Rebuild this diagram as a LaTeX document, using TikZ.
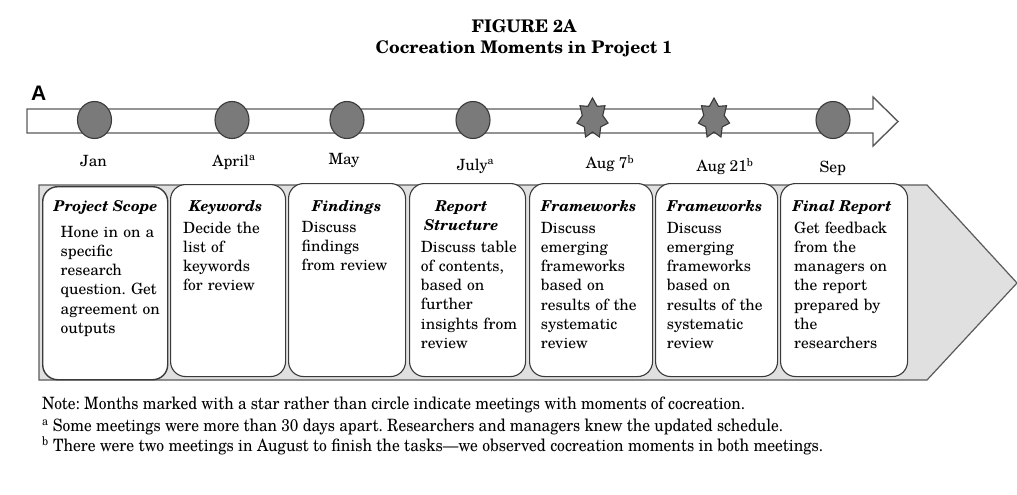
\documentclass[tikz,border=0pt]{standalone}
\usepackage{fontspec}
\setmainfont{TeX Gyre Schola}
\newfontfamily\herosfont{Liberation Sans}
\usepackage{graphicx}
\usetikzlibrary{shapes.geometric}
\definecolor{dotgray}{HTML}{7A7A7A}
\definecolor{edgegray}{HTML}{3A3A3A}
\definecolor{linegray}{HTML}{5A5A5A}
\definecolor{bandgray}{HTML}{E0E0E0}
\tikzset{
  dot/.style={ellipse, minimum width=34pt, minimum height=37pt, inner sep=0pt, fill=dotgray, draw=edgegray, line width=1.1pt},
  stardot/.style={fill=dotgray, draw=edgegray, line width=1.1pt, line join=miter},
  timeline/.style={draw=linegray, fill=white, line width=1.4pt},
  band/.style={draw=linegray, fill=bandgray, line width=1.2pt},
  card/.style={draw=edgegray, fill=white, rounded corners=15pt, line width=1.1pt, anchor=north west, inner sep=0pt},
  cardtitle/.style={anchor=base, inner sep=0pt, font=\fontsize{15}{19}\selectfont\bfseries\itshape, align=center},
  cardbody/.style={anchor=north west, inner sep=0pt, text width=122pt, align=left, font=\fontsize{15.5}{19.2}\selectfont},
  month/.style={anchor=base, inner sep=0pt, font=\fontsize{15.5}{17}\selectfont},
  notetext/.style={anchor=base west, inner sep=0pt, font=\fontsize{17}{19}\selectfont},
}
\newcommand{\topstrut}{\rule{0pt}{12pt}}
\frenchspacing
\begin{document}
\frenchspacing
\begin{tikzpicture}[x=1pt,y=-1pt]
\useasboundingbox (0,0) rectangle (1017,495);
% titles
\node[anchor=base, inner sep=0pt, font=\fontsize{17.4}{20}\selectfont\bfseries] (fig) at (524,33) {FIGURE 2A};
\node[anchor=base, inner sep=0pt, font=\fontsize{17.4}{20}\selectfont\bfseries] (ttl) at (524,53) {Cocreation Moments in Project 1};
\node[anchor=base west, inner sep=0pt, font=\herosfont\bfseries\fontsize{21}{21}\selectfont] (lblA) at (31,100) {A};
% timeline arrow
\draw[timeline] (27,109) -- (873,109) -- (873,97) -- (898,121.5) -- (873,146) -- (873,133) -- (27,133) -- cycle;
% markers
\node[dot] (jan) at (94.5,120) {};
\node[dot] (apr) at (232,120) {};
\node[dot] (may) at (347,120) {};
\node[dot] (jul) at (473,120) {};
\node[dot] (sep) at (833,120) {};
\coordinate (aug7) at (592.5,118.5);
\coordinate (aug21) at (714,118.5);
\foreach \c in {aug7,aug21}{
  \begin{scope}[shift={(\c)}]
    \filldraw[stardot] (-90:16 and 20.5)
      -- (-64.2857:10.5 and 13.5) -- (-38.5714:16 and 20.5)
      -- (-12.8571:10.5 and 13.5) -- (12.8571:16 and 20.5)
      -- (38.5714:10.5 and 13.5) -- (64.2857:16 and 20.5)
      -- (90:10.5 and 13.5) -- (115.7143:16 and 20.5)
      -- (141.4286:10.5 and 13.5) -- (167.1429:16 and 20.5)
      -- (192.8571:10.5 and 13.5) -- (218.5714:16 and 20.5)
      -- (244.2857:10.5 and 13.5) -- cycle;
  \end{scope}
}
% month labels
\node[month] (ljan) at (93.5,166.5) {Jan};
\node[month] (lapr) at (234,166) {April\textsuperscript{a}};
\node[month] (lmay) at (344,164) {May};
\node[month] (ljul) at (475.5,170) {July\textsuperscript{a}};
\node[month] (laug7) at (610,168.3) {Aug 7\textsuperscript{b}};
\node[month] (laug21) at (725,171.7) {Aug 21\textsuperscript{b}};
\node[month] (lsep) at (832.7,172.5) {Sep};
% band chevron
\filldraw[band] (39,185) -- (927,185) -- (1017,283) -- (927,380) -- (39,380) -- cycle;
% cards
\node[card, minimum width=125pt, minimum height=193pt, line width=1.4pt] (c1) at (42,186) {};
\node[card, minimum width=115pt, minimum height=192pt] (c2) at (170,184) {};
\node[card, minimum width=117pt, minimum height=193pt] (c3) at (288,183) {};
\node[card, minimum width=116pt, minimum height=193pt] (c4) at (409,183) {};
\node[card, minimum width=123pt, minimum height=193pt] (c5) at (529,183) {};
\node[card, minimum width=122pt, minimum height=193pt] (c6) at (655,183) {};
\node[card, minimum width=127pt, minimum height=193pt] (c7) at (780,183) {};
% card titles
\node[cardtitle] (t1) at (105.5,211.7) {Project Scope};
\node[cardtitle] (t2) at (225.8,211.7) {Keywords};
\node[cardtitle] (t3) at (346.7,211.7) {Findings};
\node[cardtitle] (t4) at (461.3,211.7) {Report};
\node[cardtitle] (t4b) at (461.3,230.5) {Structure};
\node[cardtitle] (t5) at (588.7,211.7) {Frameworks};
\node[cardtitle] (t6) at (714.7,211.7) {Frameworks};
\node[cardtitle] (t7) at (842,211.7) {Final Report};
% card bodies
\node[cardbody] (b1) at (60.5,225) {\topstrut Hone in on a\\ specific\\ research\\ question. Get\\ agreement on\\ outputs};
\node[cardbody] (b2) at (183,221) {\topstrut Decide the\\ list of\\ keywords\\ for review};
\node[cardbody] (b3) at (301.5,220) {\topstrut Discuss\\ findings\\ from review};
\node[cardbody] (b4) at (420.7,240) {\topstrut Discuss table\\ of contents,\\ based on\\ further\\ insights from\\ review};
\node[cardbody] (b5) at (540.7,221) {\topstrut Discuss\\ emerging\\ frameworks\\ based on\\ results of the\\ systematic\\ review};
\node[cardbody] (b6) at (666.7,221) {\topstrut Discuss\\ emerging\\ frameworks\\ based on\\ results of the\\ systematic\\ review};
\node[cardbody] (b7) at (794,221) {\topstrut Get feedback\\ from the\\ managers on\\ the report\\ prepared by\\ the\\ researchers};
% notes
\node[notetext] (n1) at (42,409.5) {\resizebox{703pt}{\height}{Note: Months marked with a star rather than circle indicate meetings with moments of cocreation.}};
\node[notetext] (n2) at (42,431.5) {\resizebox{741pt}{\height}{\textsuperscript{a} Some meetings were more than 30 days apart. Researchers and managers knew the updated schedule.}};
\node[notetext] (n3) at (42,451.5) {\resizebox{781pt}{\height}{\textsuperscript{b} There were two meetings in August to finish the tasks---we observed cocreation moments in both meetings.}};
\end{tikzpicture}
\end{document}
